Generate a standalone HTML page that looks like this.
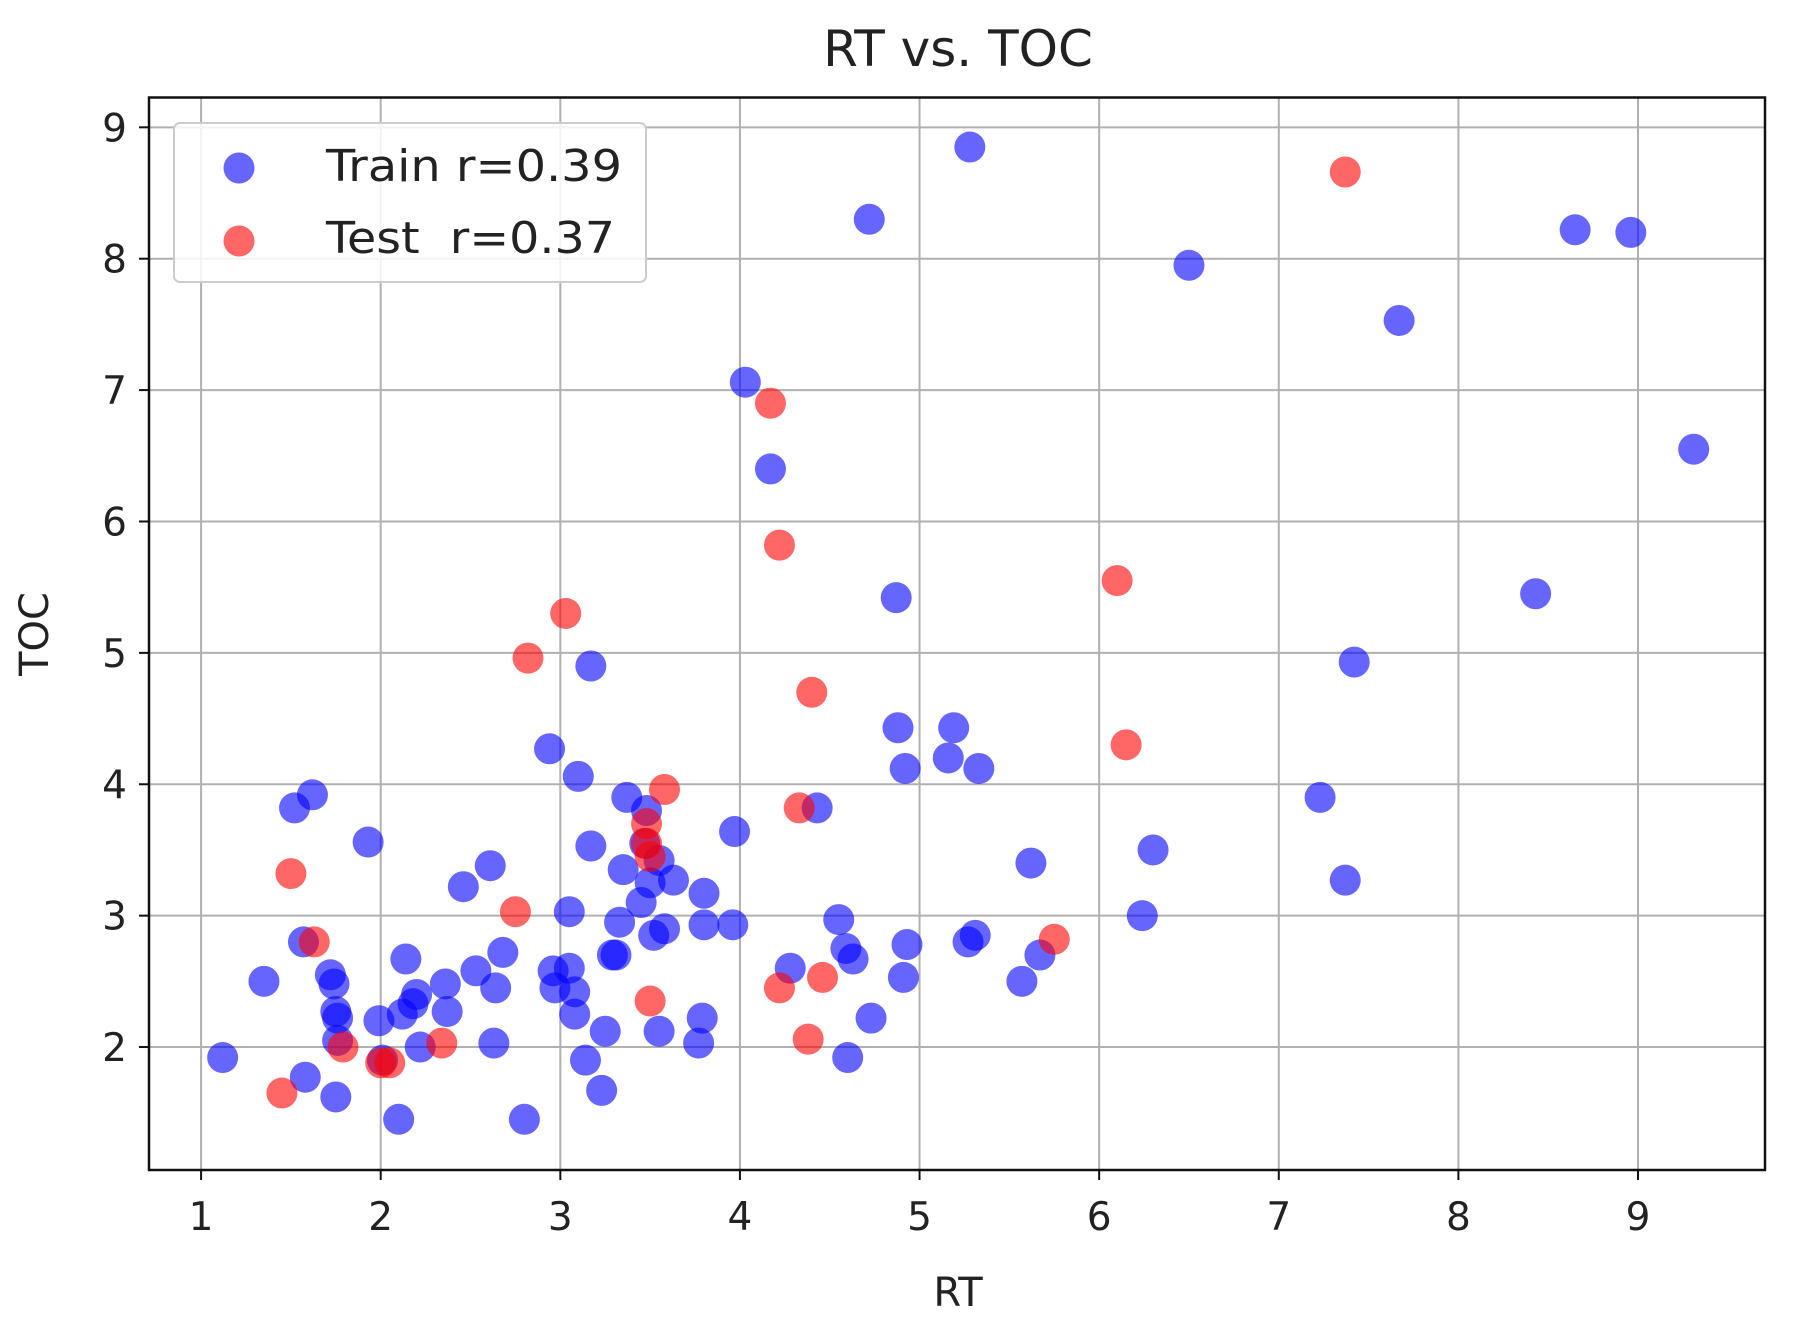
<!DOCTYPE html>
<html><head><meta charset="utf-8"><style>
html,body{margin:0;padding:0;background:#fff;}
svg{display:block;font-family:"DejaVu Sans","Liberation Sans",sans-serif;}
</style></head><body>
<svg id="chart" width="1799" height="1321" viewBox="0 0 1799 1321">
<text x="958" y="66" font-size="50" text-anchor="middle" fill="#222">RT vs. TOC</text>
<g id="grid"></g>
<g id="ticks"></g>
<g id="points"></g>
<rect x="149" y="97.5" width="1616" height="1072.5" fill="none" stroke="#111" stroke-width="2.5"/>
<text x="958" y="1306" font-size="40" text-anchor="middle" fill="#222">RT</text>
<text x="0" y="0" font-size="40" text-anchor="middle" fill="#222" transform="translate(48,634) rotate(-90)">TOC</text>
<g>
<rect x="174" y="123" width="472" height="159" rx="6" fill="#fff" fill-opacity="0.85" stroke="#ccc" stroke-width="2"/>
<circle cx="239" cy="168" r="15.5" fill="#0000ff" fill-opacity="0.6"/>
<text x="326" y="181" font-size="44" fill="#222" textLength="296" lengthAdjust="spacingAndGlyphs">Train r=0.39</text>
<circle cx="239" cy="241" r="15.5" fill="#ff0000" fill-opacity="0.6"/>
<text x="326" y="253" font-size="44" fill="#222" xml:space="preserve" textLength="289" lengthAdjust="spacingAndGlyphs">Test  r=0.37</text>
</g>
</svg>
<script>
const xTicks=[1,2,3,4,5,6,7,8,9];
const yTicks=[2,3,4,5,6,7,8,9];
const trainX=[1.12,1.35,1.52,1.62,1.57,1.58,1.72,1.74,1.75,1.76,1.76,1.75,1.93,1.99,2.01,2.1,2.12,2.14,2.18,2.2,2.22,2.36,2.37,2.46,2.53,2.61,2.63,2.64,2.68,2.8,2.94,2.96,2.97,3.05,3.05,3.08,3.08,3.1,3.14,3.17,3.17,3.23,3.25,3.29,3.31,3.33,3.35,3.37,3.45,3.47,3.48,3.5,3.52,3.55,3.55,3.58,3.63,3.77,3.79,3.8,3.8,3.96,3.97,4.03,4.17,4.28,4.43,4.55,4.59,4.6,4.63,4.73,4.72,4.87,4.88,4.92,4.91,4.93,5.16,5.19,5.27,5.31,5.33,5.28,5.57,5.62,5.67,6.24,6.3,6.5,7.23,7.37,7.42,7.67,8.43,8.65,8.96,9.31];
const trainY=[1.92,2.5,3.82,3.92,2.8,1.77,2.55,2.48,2.27,2.22,2.05,1.62,3.56,2.2,1.9,1.45,2.25,2.67,2.33,2.4,2.0,2.48,2.27,3.22,2.58,3.38,2.03,2.45,2.72,1.45,4.27,2.58,2.45,3.03,2.6,2.42,2.25,4.06,1.9,3.53,4.9,1.67,2.12,2.7,2.7,2.95,3.35,3.9,3.1,3.55,3.8,3.25,2.85,2.12,3.42,2.9,3.27,2.03,2.22,2.93,3.17,2.93,3.64,7.06,6.4,2.6,3.82,2.97,2.75,1.92,2.67,2.22,8.3,5.42,4.43,4.12,2.53,2.78,4.2,4.43,2.8,2.85,4.12,8.85,2.5,3.4,2.7,3.0,3.5,7.95,3.9,3.27,4.93,7.53,5.45,8.22,8.2,6.55];
const testX=[1.45,1.5,1.63,1.79,2.0,2.05,2.34,2.75,2.82,3.03,3.48,3.48,3.5,3.5,3.58,4.17,4.22,4.22,4.33,4.38,4.4,4.46,5.75,6.1,6.15,7.37];
const testY=[1.65,3.32,2.8,2.0,1.88,1.88,2.03,3.03,4.96,5.3,3.7,3.55,3.45,2.35,3.96,6.9,5.82,2.45,3.82,2.06,4.7,2.53,2.82,5.55,4.3,8.66];
const NS="http://www.w3.org/2000/svg";
const L=149,R=1765,T=97.5,B=1170,xMin=0.710,xMax=9.707,yMin=1.064,yMax=9.227;
function sx(v){return L+(v-xMin)/(xMax-xMin)*(R-L);}
function sy(v){return B-(v-yMin)/(yMax-yMin)*(B-T);}
function mk(tag,attrs,parent){const e=document.createElementNS(NS,tag);for(const k in attrs)e.setAttribute(k,attrs[k]);parent.appendChild(e);return e;}
const grid=document.getElementById('grid'),ticks=document.getElementById('ticks'),pts=document.getElementById('points');
xTicks.forEach(t=>{const x=sx(t);
 const g=mk('line',{x1:x,x2:x,y1:T,y2:B,stroke:'#b0b0b0','stroke-width':2},grid);
 
 
 const tk=mk('line',{x1:x,x2:x,y1:B,y2:B+10,stroke:'#111','stroke-width':2},ticks);
 
 
 const lb=mk('text',{x:x,y:B+60,'font-size':39,'text-anchor':'middle',fill:'#222'},ticks);lb.textContent=t;
 
 
});
yTicks.forEach(t=>{const y=sy(t);
 const g=mk('line',{x1:L,x2:R,y1:y,y2:y,stroke:'#b0b0b0','stroke-width':2},grid);
 
 
 const tk=mk('line',{x1:L-10,x2:L,y1:y,y2:y,stroke:'#111','stroke-width':2},ticks);
 
 
 const lb=mk('text',{x:L-22,y:y+14,'font-size':39,'text-anchor':'end',fill:'#222'},ticks);lb.textContent=t;
 
 
});
trainX.forEach((v,i)=>{const c=mk('circle',{cx:sx(v),cy:sy(trainY[i]),r:15.5,fill:'#0000ff','fill-opacity':0.6},pts);
 
 
});
testX.forEach((v,i)=>{const c=mk('circle',{cx:sx(v),cy:sy(testY[i]),r:15.5,fill:'#ff0000','fill-opacity':0.6},pts);
 
 
});
</script>
</body></html>
